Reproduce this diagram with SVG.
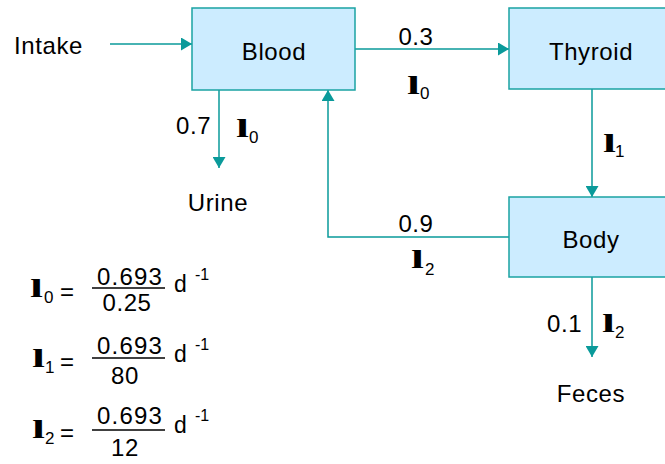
<svg xmlns="http://www.w3.org/2000/svg" width="665" height="464" viewBox="0 0 665 464">
<defs>
<marker id="ah" markerUnits="userSpaceOnUse" markerWidth="11" markerHeight="13" refX="11" refY="6.5" orient="auto" viewBox="0 0 11 13">
<path d="M0,0 L11,6.5 L0,13 z" fill="#0a9a9a"/>
</marker>
<style>
.box{fill:#ccecff;stroke:#1aa3a3;stroke-width:1.5}
.t{font-family:"Liberation Sans",Arial,sans-serif;font-size:24px;fill:#000;letter-spacing:0.6px}
.c{text-anchor:middle}
.lam{font-family:"Liberation Serif","Times New Roman",serif;font-weight:bold;font-size:26px;fill:#000}
.sub{font-family:"Liberation Sans",Arial,sans-serif;font-size:17px;fill:#000}
.num{letter-spacing:1.2px}
.d{font-family:"Liberation Sans",Arial,sans-serif;font-size:23px;fill:#000}
.sup{font-family:"Liberation Sans",Arial,sans-serif;font-size:16px;fill:#000}
.ln{fill:none;stroke:#0a9a9a;stroke-width:1.5}
.fr{stroke:#000;stroke-width:1.5}
</style>
</defs>

<g id="connectors">
<path class="ln" d="M110,44 H192" marker-end="url(#ah)"/>
<path class="ln" d="M355,49 H509" marker-end="url(#ah)"/>
<path class="ln" d="M219,90 V168" marker-end="url(#ah)"/>
<path class="ln" d="M509,237 H328 V90" marker-end="url(#ah)"/>
<path class="ln" d="M592,89 V197" marker-end="url(#ah)"/>
<path class="ln" d="M592,277 V357" marker-end="url(#ah)"/>
</g>

<g id="blood">
<rect class="box" x="192" y="8" width="163" height="82"/>
<text class="t c" x="274" y="60">Blood</text>
</g>
<g id="thyroid">
<rect class="box" x="509" y="8" width="163" height="81"/>
<text class="t c" x="591" y="60">Thyroid</text>
</g>
<g id="body">
<rect class="box" x="509" y="197" width="163" height="80"/>
<text class="t c" x="591" y="248">Body</text>
</g>
<g id="intake">
<text class="t" x="14" y="54">Intake</text>
</g>
<g id="urine">
<text class="t c" x="218" y="211">Urine</text>
</g>
<g id="feces">
<text class="t c" x="591" y="402">Feces</text>
</g>

<g id="labels">
<text class="t c" x="416" y="45">0.3</text>
<text class="lam" x="407" y="94" textLength="13" lengthAdjust="spacingAndGlyphs">l</text>
<text class="sub" x="420" y="99">0</text>

<text class="t" x="176" y="134">0.7</text>
<text class="lam" x="236" y="137" textLength="13" lengthAdjust="spacingAndGlyphs">l</text>
<text class="sub" x="249" y="143">0</text>

<text class="lam" x="603" y="152" textLength="13" lengthAdjust="spacingAndGlyphs">l</text>
<text class="sub" x="615" y="157">1</text>

<text class="t c" x="416" y="232">0.9</text>
<text class="lam" x="411" y="268" textLength="13" lengthAdjust="spacingAndGlyphs">l</text>
<text class="sub" x="425" y="275">2</text>

<text class="t" x="547" y="332">0.1</text>
<text class="lam" x="602" y="332" textLength="13" lengthAdjust="spacingAndGlyphs">l</text>
<text class="sub" x="615" y="338">2</text>
</g>

<g id="formulas">
<text class="lam" x="30" y="297" textLength="13" lengthAdjust="spacingAndGlyphs">l</text>
<text class="sub" x="44" y="303">0</text>
<text class="t" x="60" y="300">=</text>
<text class="t c num" x="130" y="285">0.693</text>
<line class="fr" x1="92" y1="288" x2="165" y2="288"/>
<text class="t c" x="127" y="311">0.25</text>
<text class="d" x="174" y="292">d</text>
<text class="sup" x="195" y="280">-1</text>

<text class="lam" x="32" y="367" textLength="13" lengthAdjust="spacingAndGlyphs">l</text>
<text class="sub" x="45" y="373">1</text>
<text class="t" x="60" y="370">=</text>
<text class="t c num" x="130" y="354">0.693</text>
<line class="fr" x1="92" y1="358" x2="165" y2="358"/>
<text class="t c" x="125" y="384">80</text>
<text class="d" x="174" y="362">d</text>
<text class="sup" x="195" y="350">-1</text>

<text class="lam" x="32" y="438" textLength="13" lengthAdjust="spacingAndGlyphs">l</text>
<text class="sub" x="45" y="444">2</text>
<text class="t" x="60" y="441">=</text>
<text class="t c num" x="130" y="424">0.693</text>
<line class="fr" x1="92" y1="430" x2="165" y2="430"/>
<text class="t c" x="125" y="456">12</text>
<text class="d" x="174" y="433">d</text>
<text class="sup" x="195" y="421">-1</text>
</g>
</svg>
